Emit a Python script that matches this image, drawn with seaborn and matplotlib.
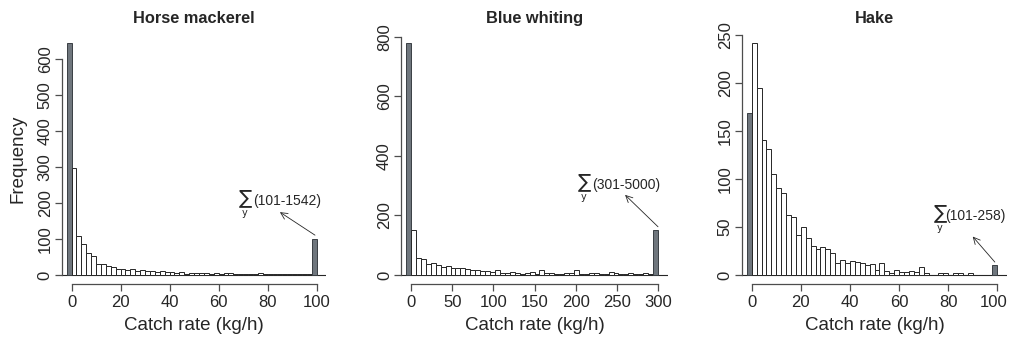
import numpy as np
import pandas as pd
import matplotlib
matplotlib.use("Agg")
import matplotlib.pyplot as plt
import matplotlib.transforms as mtransforms
import seaborn as sns

# counts
titles = ["Horse mackerel", "Blue whiting", "Hake"]

hm_zero = 645
hm_counts = [297, 108, 85, 60, 54, 30, 30, 24, 21, 18,
             18, 13, 17, 11, 15, 12, 11, 9, 10, 8,
             9, 6, 9, 3, 5, 6, 5, 5, 4, 7,
             4, 5, 5, 4, 4, 2, 4, 4, 5, 4,
             3, 4, 2, 4, 4, 4, 2, 4, 2]
hm_over = 100

bw_zero = 778
bw_counts = [151, 56, 53, 37, 40, 33, 28, 30, 24, 24,
             24, 20, 16, 18, 12, 14, 10, 16, 6, 6,
             10, 7, 4, 8, 11, 5, 17, 8, 6, 5,
             4, 7, 6, 17, 4, 3, 6, 6, 4, 3,
             10, 6, 5, 2, 6, 2, 4, 6, 4]
bw_over = 150

hk_zero = 168
hk_counts = [241, 195, 140, 131, 105, 90, 85, 62, 60, 42,
             50, 38, 30, 27, 29, 27, 23, 13, 16, 12,
             15, 14, 13, 10, 11, 5, 12, 4, 2, 5,
             3, 3, 4, 3, 8, 2, 0, 0, 2, 2,
             0, 2, 2, 0, 2, 0, 0, 0, 0]
hk_over = 10

bin_widths = [2, 6, 2]
x_ticks = [np.arange(0, 101, 20), np.arange(0, 301, 50), np.arange(0, 101, 20)]
y_ticks = [np.arange(0, 601, 100), np.arange(0, 801, 200), np.arange(0, 251, 50)]
notes = ["(101-1542)", "(301-5000)", "(101-258)"]
# annotation anchors in data units: sigma x, text x, baseline y, arrow head, arrow tail
note_pos = [
    (70.8, 74.0, 195, (85, 175), (99.3, 111)),
    (211, 220, 290, (260, 269), (300, 162)),
    (76.7, 78.7, 57, (90, 40), (99, 13.5)),
]

sns.set_style("white")
plt.rcParams["font.family"] = ["Liberation Sans", "DejaVu Sans"]
plt.rcParams["mathtext.fontset"] = "dejavusans"

INK = "#262626"
AXC = "#4d4d4d"
DARK = "#6f767d"

fig = plt.figure(figsize=(10.09, 3.40), dpi=100)
W, H = 1009, 340
boxes = [(61.7, 326.5), (401.1, 667.9), (741.9, 1007.1)]
top_px, bot_px = 34.0, 284.3

series = [(hm_zero, hm_counts, hm_over), (bw_zero, bw_counts, bw_over), (hk_zero, hk_counts, hk_over)]

for i, (zero, counts, over) in enumerate(series):
    l, r = boxes[i]
    ax = fig.add_axes([l / W, (H - bot_px) / H, (r - l) / W, (bot_px - top_px) / H])
    w = bin_widths[i]
    edges = [-w + w * k for k in range(len(counts) + 3)]
    df = pd.DataFrame({
        "rate": [e + w / 2 for e in edges[:-1]],
        "count": [zero] + counts + [over],
    })
    sns.histplot(data=df, x="rate", weights="count", bins=edges, ax=ax,
                 color="white", edgecolor=INK, linewidth=0.7, alpha=1)
    for p in (ax.patches[0], ax.patches[-1]):
        p.set_facecolor(DARK)
        p.set_edgecolor("#3a3f44")

    ymax = max(zero, max(counts), over)
    xt = x_ticks[i]
    yt = y_ticks[i]
    ax.set_xlim(xt[0] - 0.04 * (xt[-1] - xt[0]), xt[-1] + 0.04 * (xt[-1] - xt[0]))
    ax.set_ylim(-0.04 * ymax, 1.04 * ymax)
    ax.axhline(0, color=INK, lw=0.8, zorder=0)

    ax.set_xticks(xt)
    ax.set_yticks(yt)
    ax.set_yticklabels([str(v) for v in yt], rotation=90, va="center")
    for s in ("top", "right"):
        ax.spines[s].set_visible(False)
    ax.spines["left"].set_bounds(yt[0], yt[-1])
    ax.spines["bottom"].set_bounds(xt[0], xt[-1])
    for s in ("left", "bottom"):
        ax.spines[s].set_color(AXC)
        ax.spines[s].set_linewidth(0.9)
    ax.tick_params(axis="both", direction="out", length=5, width=0.9, color=AXC,
                   labelsize=12, labelcolor=INK, pad=3,
                   bottom=True, left=True)
    ax.tick_params(axis="y", pad=1.5)

    # the last label of the right-hand panel sits against the figure edge
    if i == 2:
        last = ax.get_xticklabels()[-1]
        last.set_transform(last.get_transform() +
                           mtransforms.ScaledTranslation(-4 / 100, 0, fig.dpi_scale_trans))

    ax.set_title(titles[i], fontsize=11.8, fontweight="bold", color=INK, pad=8)
    ax.set_xlabel("Catch rate (kg/h)", fontsize=13.5, color=INK, labelpad=5)
    if i == 0:
        ax.set_ylabel("Frequency", fontsize=13.5, color=INK, labelpad=8)
    else:
        ax.set_ylabel("")

    sx, tx, ty, head, tail = note_pos[i]
    ax.text(sx, ty, r"$\sum_{\mathrm{y}}$", ha="center", va="baseline",
            fontsize=10, color=INK)
    ax.text(tx, ty, notes[i], ha="left", va="baseline", fontsize=10, color=INK)
    ax.annotate("", xy=head, xytext=tail,
                arrowprops=dict(arrowstyle="->", color=INK, lw=0.6,
                                mutation_scale=12, shrinkA=0, shrinkB=0))

fig.savefig("out.png", dpi=100, facecolor="white")
